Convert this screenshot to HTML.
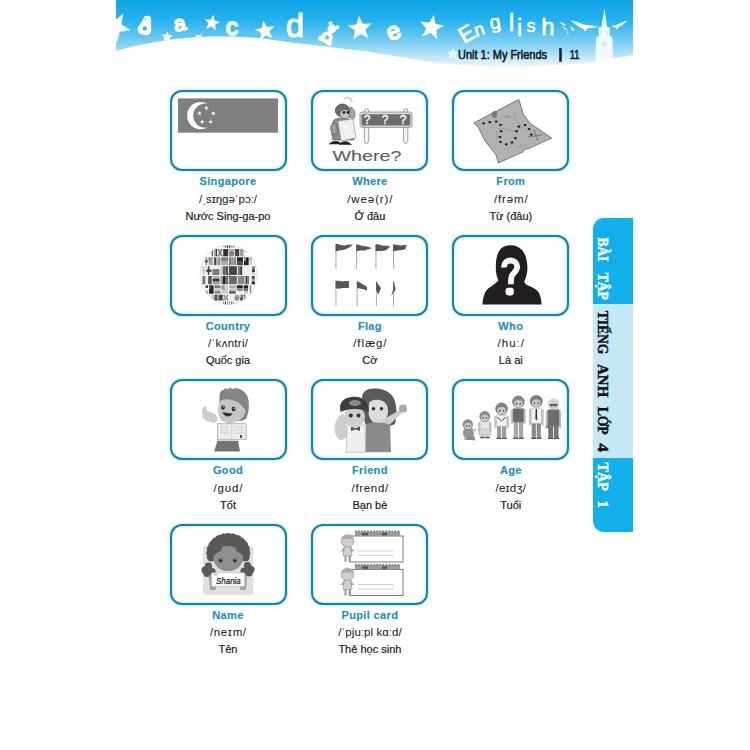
<!DOCTYPE html>
<html><head><meta charset="utf-8">
<style>
*{margin:0;padding:0;box-sizing:border-box}
html,body{width:750px;height:750px;overflow:hidden;background:#fff}
body{position:relative;font-family:"Liberation Sans",sans-serif}
.card{position:absolute;width:117px;height:81.3px;border:2px solid #0e86ad;border-radius:12px;background:#fff;box-shadow:0 0 0 0.8px rgba(140,225,245,0.55),inset 0 0 0 0.8px rgba(140,225,245,0.55)}
.t,.p,.v{position:absolute;width:120px;text-align:center;white-space:nowrap;line-height:14px}
.t{font-weight:bold;font-size:11px;letter-spacing:0.35px;color:#1f94b8;-webkit-text-stroke:0.2px #1f94b8}
.p{font-family:"Liberation Sans",sans-serif;font-size:11.5px;color:#1a1a1a;-webkit-text-stroke:0.05px #1a1a1a}
.v{font-size:11px;color:#1a1a1a;-webkit-text-stroke:0.2px #1a1a1a}
#banner{position:absolute;left:116px;top:0;width:517px;height:80px}
#tab{position:absolute;left:592.5px;top:218px;width:40.5px;height:313.5px;border-radius:11px 0 0 11px;overflow:hidden;background:#12b0ea}
#tab .light{position:absolute;left:0;top:85.5px;width:100%;height:154px;background:#c6e7f8}
.tw{position:absolute;left:6px;font-family:"Liberation Serif",serif;font-weight:bold;font-size:15px;writing-mode:vertical-rl;line-height:15px}
#imgs{position:absolute;left:0;top:0}
</style></head><body>
<svg id="banner" width="517" height="80" viewBox="116 0 517 80">
<defs><linearGradient id="bg" x1="0" y1="0" x2="0" y2="1">
<stop offset="0" stop-color="#10a4e8"/><stop offset="0.25" stop-color="#25b1ed"/><stop offset="0.45" stop-color="#62c6f1"/><stop offset="0.6" stop-color="#95d7f5"/><stop offset="0.72" stop-color="#c2e8f9"/><stop offset="0.85" stop-color="#f2fafe"/></linearGradient></defs>
<rect x="116" y="0" width="517" height="80" fill="url(#bg)"/>
<path d="M123.25,13.58 L121.44,24.36 L130.66,30.22 L119.85,31.83 L117.12,42.42 L112.25,32.63 L101.34,33.30 L109.14,25.65 L105.13,15.48 L114.82,20.54Z" fill="#fff"/>
<path d="M167.52,31.02 L168.71,35.04 L172.85,35.65 L169.39,38.02 L170.09,42.14 L166.77,39.59 L163.06,41.53 L164.47,37.58 L161.48,34.66 L165.66,34.77Z" fill="#fff"/>
<path d="M213.44,14.83 L214.59,20.50 L220.22,21.84 L215.18,24.69 L215.64,30.46 L211.37,26.55 L206.03,28.77 L208.44,23.50 L204.67,19.10 L210.42,19.76Z" fill="#fff"/>
<path d="M263.18,20.66 L266.93,27.05 L274.27,26.07 L269.36,31.61 L272.55,38.29 L265.76,35.33 L260.40,40.44 L261.12,33.07 L254.60,29.54 L261.83,27.94Z" fill="#fff"/>
<path d="M358.88,15.75 L362.78,23.87 L371.78,23.50 L365.26,29.71 L368.40,38.16 L360.47,33.88 L353.41,39.47 L355.03,30.61 L347.53,25.62 L356.46,24.42Z" fill="#fff"/>
<path d="M433.72,14.89 L435.38,23.75 L444.18,25.72 L436.27,30.04 L437.11,39.00 L430.56,32.82 L422.29,36.39 L426.15,28.25 L420.20,21.49 L429.13,22.65Z" fill="#fff"/>
<path d="M201.50,33.67 L201.01,37.11 L203.89,39.04 L200.47,39.63 L199.52,42.97 L197.90,39.91 L194.43,40.03 L196.85,37.54 L195.65,34.28 L198.77,35.81Z" fill="#fff"/>
<path d="M453.00,47.50 L454.65,51.73 L459.18,51.99 L455.66,54.87 L456.82,59.26 L453.00,56.80 L449.18,59.26 L450.34,54.87 L446.82,51.99 L451.35,51.73Z" fill="#eaf8fe"/>
<g transform="translate(145.5,25) rotate(12)"><circle cx="0.5" cy="-5.5" r="4" fill="#fff"/><path d="M-3.5,-5 L4.5,-5 L6.5,3 C7.5,6 6.5,9.5 2,10 L-2,10 C-6.5,9.5 -7.5,6 -6.5,3Z" fill="#fff"/><circle cx="0" cy="3.5" r="2.2" fill="#3ab6ee"/><circle cx="-1" cy="-6" r="0.8" fill="#3ab6ee"/></g>
<g transform="translate(329,34) rotate(30)"><circle cx="0" cy="-6" r="4.5" fill="#fff"/><circle cx="-4" cy="-10" r="2" fill="#fff"/><circle cx="4" cy="-10" r="2" fill="#fff"/><circle cx="0" cy="4" r="6" fill="#fff"/><circle cx="-5" cy="8" r="2.5" fill="#fff"/><circle cx="5" cy="8" r="2.5" fill="#fff"/><circle cx="0" cy="4" r="2" fill="#5cc2f0"/></g>
<text x="0" y="0" font-family="Liberation Sans" fill="#fff" stroke="#fff" stroke-linejoin="round" stroke-linecap="round" text-anchor="middle" stroke-width="1.8" font-size="21" transform="translate(181,30.5) rotate(-12)">a</text>
<text x="0" y="0" font-family="Liberation Sans" fill="#fff" stroke="#fff" stroke-linejoin="round" stroke-linecap="round" text-anchor="middle" stroke-width="1.8" font-size="24" transform="translate(232,34.5) rotate(0)">c</text>
<text x="0" y="0" font-family="Liberation Sans" fill="#fff" stroke="#fff" stroke-linejoin="round" stroke-linecap="round" text-anchor="middle" stroke-width="1.2" font-size="34" transform="translate(295,36.5) rotate(0) scale(0.95,1)">d</text>
<text x="0" y="0" font-family="Liberation Sans" fill="#fff" stroke="#fff" stroke-linejoin="round" stroke-linecap="round" text-anchor="middle" stroke-width="1.8" font-size="24" transform="translate(396.5,38.5) rotate(-25)">e</text>
<text x="0" y="0" font-family="Liberation Sans" fill="#fff" stroke="#fff" stroke-linejoin="round" stroke-linecap="round" text-anchor="middle" stroke-width="0.6" font-size="22.5" transform="translate(470.5,40.3) rotate(-30)">E</text>
<text x="0" y="0" font-family="Liberation Sans" fill="#fff" stroke="#fff" stroke-linejoin="round" stroke-linecap="round" text-anchor="middle" stroke-width="0.6" font-size="18" transform="translate(481,35.2) rotate(-18)">n</text>
<text x="0" y="0" font-family="Liberation Sans" fill="#fff" stroke="#fff" stroke-linejoin="round" stroke-linecap="round" text-anchor="middle" stroke-width="0.6" font-size="19.5" transform="translate(496,28.5) rotate(-10)">g</text>
<text x="0" y="0" font-family="Liberation Sans" fill="#fff" stroke="#fff" stroke-linejoin="round" stroke-linecap="round" text-anchor="middle" stroke-width="0.6" font-size="23" transform="translate(511.5,31) rotate(0)">l</text>
<text x="0" y="0" font-family="Liberation Sans" fill="#fff" stroke="#fff" stroke-linejoin="round" stroke-linecap="round" text-anchor="middle" stroke-width="0.6" font-size="23" transform="translate(519.5,35.8) rotate(0)">i</text>
<text x="0" y="0" font-family="Liberation Sans" fill="#fff" stroke="#fff" stroke-linejoin="round" stroke-linecap="round" text-anchor="middle" stroke-width="0.6" font-size="18" transform="translate(531,32) rotate(0)">s</text>
<text x="0" y="0" font-family="Liberation Sans" fill="#fff" stroke="#fff" stroke-linejoin="round" stroke-linecap="round" text-anchor="middle" stroke-width="0.6" font-size="24" transform="translate(548,35.3) rotate(0)">h</text>
<path d="M571,20.5 C575,21 579,22.5 583,24.5 L592,25.5 L598.5,26.5 C595,27.5 591,28 587.5,28.5 L585,31.5 L583,28.8 C579,27 575,24.5 571,20.5Z" fill="#fff"/>
<path d="M559.5,22 C562,22.5 564.5,23.5 566,25 L563.5,25.8Z M562,26.5 C564,27 566,28 567.5,29.5 L565,30Z M566.5,31 L569,33 L567,33.5Z M570.5,26 C572,27 573.5,28.5 574.5,30.5 L572,30.5Z" fill="#fff"/>
<path d="M611.5,26 C615,25.5 619,24 624,21.5 L627.5,20.5 C625,23 622,25.5 619,27 L617,29.5 L615.5,27.5 C614,27.2 612.5,26.8 611.5,26Z" fill="#fff"/>
<path d="M604,9.5 L604.8,9.5 L605,13 L606.2,20 L607,27 L609.5,27.2 L610,29 L609.5,36 L612,37 L612.5,39 L613,62 L595.5,62 L596,39 L596.5,37 L599,36 L598.5,29 L599,27.2 L601.6,27 L602.5,20 L603.7,13Z" fill="#f2fafe"/><rect x="600" y="31" width="2" height="3" fill="#cfe9f7"/><rect x="606" y="31" width="2" height="3" fill="#cfe9f7"/><circle cx="604.3" cy="44" r="3" fill="#d8eef9"/>
<path d="M116,51 C140,44 170,38.5 200,37 C225,36 255,36.5 280,41 C310,45 340,48 370,52 C400,57 430,63 460,65 C500,68 560,67 600,61 C615,59 625,56 633,55 L633,80 L116,80Z" fill="#fff"/>
</svg>
<svg id="hdr" style="position:absolute;left:0;top:0" width="750" height="80"><g font-family="Liberation Sans" fill="#1b1b2b" stroke="#1b1b2b" stroke-width="0.6">
<text x="458" y="58.6" font-size="12" textLength="89" lengthAdjust="spacingAndGlyphs">Unit 1: My Friends</text>
<rect x="559.6" y="48.6" width="1.8" height="13" fill="#1b1b2b"/>
<text x="569.8" y="58.6" font-size="12" textLength="9.8" lengthAdjust="spacingAndGlyphs">11</text></g></svg>
<div id="tab"><div class="light"></div>
<svg style="position:absolute;left:-592.5px;top:-218px" width="750" height="750"><text transform="translate(597.8,237.4) rotate(90)" x="0" y="0" font-family="Liberation Serif" font-weight="bold" font-size="15.5" fill="#fff" stroke="#fff" stroke-width="0.45" textLength="24.0" lengthAdjust="spacingAndGlyphs">BÀI</text><text transform="translate(597.8,272.8) rotate(90)" x="0" y="0" font-family="Liberation Serif" font-weight="bold" font-size="15.5" fill="#fff" stroke="#fff" stroke-width="0.45" textLength="27.0" lengthAdjust="spacingAndGlyphs">TẬP</text><text transform="translate(597.8,310.7) rotate(90)" x="0" y="0" font-family="Liberation Serif" font-weight="bold" font-size="15.5" fill="#111" stroke="#111" stroke-width="0.45" textLength="43.5" lengthAdjust="spacingAndGlyphs">TIẾNG</text><text transform="translate(597.8,364) rotate(90)" x="0" y="0" font-family="Liberation Serif" font-weight="bold" font-size="15.5" fill="#111" stroke="#111" stroke-width="0.45" textLength="33.3" lengthAdjust="spacingAndGlyphs">ANH</text><text transform="translate(597.8,406.7) rotate(90)" x="0" y="0" font-family="Liberation Serif" font-weight="bold" font-size="15.5" fill="#111" stroke="#111" stroke-width="0.45" textLength="28.0" lengthAdjust="spacingAndGlyphs">LỚP</text><text transform="translate(597.8,443.3) rotate(90)" x="0" y="0" font-family="Liberation Serif" font-weight="bold" font-size="15.5" fill="#111" stroke="#111" stroke-width="0.45" textLength="8.7" lengthAdjust="spacingAndGlyphs">4</text><text transform="translate(597.8,462.6) rotate(90)" x="0" y="0" font-family="Liberation Serif" font-weight="bold" font-size="15.5" fill="#fff" stroke="#fff" stroke-width="0.45" textLength="28.2" lengthAdjust="spacingAndGlyphs">TẬP</text><text transform="translate(597.8,500.4) rotate(90)" x="0" y="0" font-family="Liberation Serif" font-weight="bold" font-size="15.5" fill="#fff" stroke="#fff" stroke-width="0.45" textLength="7.2" lengthAdjust="spacingAndGlyphs">1</text></svg>
</div>
<div class="card" style="left:169.5px;top:90px"></div>
<div class="t" style="left:168.0px;top:174.16px">Singapore</div>
<div class="p" style="left:168.0px;top:191.75px;letter-spacing:-0.04px;padding-left:-0.04px">/ˌsɪŋgəˈpɔː/</div>
<div class="v" style="left:168.0px;top:208.66px">Nước Sing-ga-po</div><div class="card" style="left:311.4px;top:90px"></div>
<div class="t" style="left:309.9px;top:174.16px">Where</div>
<div class="p" style="left:309.9px;top:191.75px;letter-spacing:0.91px;padding-left:0.91px">/weə(r)/</div>
<div class="v" style="left:309.9px;top:208.66px">Ở đâu</div><div class="card" style="left:452.3px;top:90px"></div>
<div class="t" style="left:450.8px;top:174.16px">From</div>
<div class="p" style="left:450.8px;top:191.75px;letter-spacing:0.84px;padding-left:0.84px">/frəm/</div>
<div class="v" style="left:450.8px;top:208.66px">Từ (đâu)</div><div class="card" style="left:169.5px;top:234.5px"></div>
<div class="t" style="left:168.0px;top:318.66px">Country</div>
<div class="p" style="left:168.0px;top:336.25px;letter-spacing:0.29px;padding-left:0.29px">/ˈkʌntri/</div>
<div class="v" style="left:168.0px;top:353.16px">Quốc gia</div><div class="card" style="left:311.4px;top:234.5px"></div>
<div class="t" style="left:309.9px;top:318.66px">Flag</div>
<div class="p" style="left:309.9px;top:336.25px;letter-spacing:0.88px;padding-left:0.88px">/flæg/</div>
<div class="v" style="left:309.9px;top:353.16px">Cờ</div><div class="card" style="left:452.3px;top:234.5px"></div>
<div class="t" style="left:450.8px;top:318.66px">Who</div>
<div class="p" style="left:450.8px;top:336.25px;letter-spacing:1.0px;padding-left:1.0px">/huː/</div>
<div class="v" style="left:450.8px;top:353.16px">Là ai</div><div class="card" style="left:169.5px;top:379px"></div>
<div class="t" style="left:168.0px;top:463.16px">Good</div>
<div class="p" style="left:168.0px;top:480.75px;letter-spacing:0.85px;padding-left:0.85px">/gʊd/</div>
<div class="v" style="left:168.0px;top:497.66px">Tốt</div><div class="card" style="left:311.4px;top:379px"></div>
<div class="t" style="left:309.9px;top:463.16px">Friend</div>
<div class="p" style="left:309.9px;top:480.75px;letter-spacing:0.67px;padding-left:0.67px">/frend/</div>
<div class="v" style="left:309.9px;top:497.66px">Bạn bè</div><div class="card" style="left:452.3px;top:379px"></div>
<div class="t" style="left:450.8px;top:463.16px">Age</div>
<div class="p" style="left:450.8px;top:480.75px;letter-spacing:0.16px;padding-left:0.16px">/eɪdʒ/</div>
<div class="v" style="left:450.8px;top:497.66px">Tuổi</div><div class="card" style="left:169.5px;top:523.5px"></div>
<div class="t" style="left:168.0px;top:607.66px">Name</div>
<div class="p" style="left:168.0px;top:625.25px;letter-spacing:0.66px;padding-left:0.66px">/neɪm/</div>
<div class="v" style="left:168.0px;top:642.16px">Tên</div><div class="card" style="left:311.4px;top:523.5px"></div>
<div class="t" style="left:309.9px;top:607.66px">Pupil card</div>
<div class="p" style="left:309.9px;top:625.25px;letter-spacing:0.06px;padding-left:0.06px">/ˈpjuːpl kɑːd/</div>
<div class="v" style="left:309.9px;top:642.16px">Thẻ học sinh</div>
<svg id="imgs" width="750" height="750" viewBox="0 0 750 750">
<rect x="178" y="98.4" width="100" height="34.3" fill="#7f7e81"/>
<circle cx="200.6" cy="115.6" r="13.6" fill="#fff"/><circle cx="205.4" cy="115.6" r="12.2" fill="#7f7e81"/>
<path d="M206.40,105.60 L206.99,107.18 L208.68,107.26 L207.36,108.31 L207.81,109.94 L206.40,109.01 L204.99,109.94 L205.44,108.31 L204.12,107.26 L205.81,107.18Z" fill="#fff"/>
<path d="M199.50,111.00 L200.09,112.58 L201.78,112.66 L200.46,113.71 L200.91,115.34 L199.50,114.41 L198.09,115.34 L198.54,113.71 L197.22,112.66 L198.91,112.58Z" fill="#fff"/>
<path d="M213.30,111.00 L213.89,112.58 L215.58,112.66 L214.26,113.71 L214.71,115.34 L213.30,114.41 L211.89,115.34 L212.34,113.71 L211.02,112.66 L212.71,112.58Z" fill="#fff"/>
<path d="M202.20,119.40 L202.79,120.98 L204.48,121.06 L203.16,122.11 L203.61,123.74 L202.20,122.81 L200.79,123.74 L201.24,122.11 L199.92,121.06 L201.61,120.98Z" fill="#fff"/>
<path d="M210.60,119.40 L211.19,120.98 L212.88,121.06 L211.56,122.11 L212.01,123.74 L210.60,122.81 L209.19,123.74 L209.64,122.11 L208.32,121.06 L210.01,120.98Z" fill="#fff"/>
<rect x="364.4" y="108.8" width="4.2" height="34.5" rx="2" fill="#f4f4f4" stroke="#8c8c8c" stroke-width="0.8"/>
<rect x="403.6" y="108.8" width="4.2" height="34.5" rx="2" fill="#f4f4f4" stroke="#8c8c8c" stroke-width="0.8"/>
<rect x="360" y="112" width="52" height="15.4" rx="2" fill="#d9d9d9" stroke="#8a8a8a" stroke-width="0.8"/>
<rect x="361.6" y="114.2" width="48.6" height="11.4" rx="1" fill="#6b6b6d"/>
<text x="367.2" y="124.4" font-family="Liberation Sans" font-size="12" fill="#fff" stroke="#fff" stroke-width="0.3" text-anchor="middle">?</text>
<text x="385.2" y="124.4" font-family="Liberation Sans" font-size="12" fill="#fff" stroke="#fff" stroke-width="0.3" text-anchor="middle">?</text>
<text x="403.2" y="124.4" font-family="Liberation Sans" font-size="12" fill="#fff" stroke="#fff" stroke-width="0.3" text-anchor="middle">?</text>
<path d="M344,98.5 C348,96.5 352,98.5 351.5,102.5" stroke="#d4d4d4" stroke-width="2.5" fill="none"/>
<path d="M334,120 C338,117 348,118 352,121 L354,140 L333,140 C331,133 331,125 334,120Z" fill="#8a8a8a" stroke="#444" stroke-width="0.6"/>
<path d="M330,128 C331,124 334,122 336,124 L338,133 L333,135Z" fill="#9d9d9d" stroke="#444" stroke-width="0.5"/>
<ellipse cx="342.5" cy="110.5" rx="7.2" ry="6.5" fill="#6d6d6d" stroke="#333" stroke-width="0.6"/>
<ellipse cx="345" cy="114" rx="5.2" ry="4.6" fill="#c4c4c4" stroke="#444" stroke-width="0.5"/>
<circle cx="344" cy="112.5" r="1.4" fill="#222"/><circle cx="348" cy="112.5" r="1.4" fill="#222"/>
<path d="M350.5,107 C355,108.5 356.5,115 353.5,119 L349,117.5Z" fill="#a8a8a8" stroke="#444" stroke-width="0.5"/>
<path d="M338,121 L353,119 L356,138 L341,141Z" fill="#f0f0f0" stroke="#8a8a8a" stroke-width="0.6"/>
<path d="M330.5,143.5 C333,141.2 338,141.2 340.5,143.5 Z M340.5,144 C343,141.5 347,141.5 350,144Z" fill="#222" stroke="#222" stroke-width="1.6"/>
<text x="332.4" y="160.6" font-family="Liberation Sans" font-size="15.2" fill="#5e5e60" stroke="#5e5e60" stroke-width="0.1" textLength="69.2" lengthAdjust="spacingAndGlyphs">Where?</text>
<path d="M474.0,122.8 L518.8,99.5 L519.9,102.9 L523.3,114.3 L530.1,123.3 L551.6,138.1 L529.0,148.3 L524.4,149.4 L523.3,151.7 L498.3,163.0 L496.1,155.1 L484.7,140.4 L478.5,127.9Z" fill="#b1b1b1" stroke="#6b6b6b" stroke-width="0.9" stroke-linejoin="round"/>
<path d="M516,113 C511,116 516,121 520,124 C523,128 517,132 513,131 C508,130 504,128 500,129 C495,131 496,137 499,141" stroke="#8e8e8e" stroke-width="0.8" fill="none"/>
<path d="M526,144 C522,147 519,148 516,146" stroke="#8e8e8e" stroke-width="0.8" fill="none"/>
<ellipse cx="494.5" cy="114.5" rx="2.6" ry="3.6" fill="#7a7a7a"/>
<ellipse cx="507" cy="116.5" rx="4" ry="1.3" fill="#9a9a9a"/>
<path d="M533.5,130 L538,140.5 M527.8,137 L542.6,134.7" stroke="#7d7d7d" stroke-width="1.2"/>
<ellipse cx="483.6" cy="123.3" rx="1.4" ry="1.1" fill="#111"/>
<ellipse cx="489.8" cy="122.2" rx="1.4" ry="1.1" fill="#111"/>
<ellipse cx="496.1" cy="121.6" rx="1.4" ry="1.1" fill="#111"/>
<ellipse cx="500.6" cy="125" rx="1.4" ry="1.1" fill="#111"/>
<ellipse cx="501.2" cy="131.3" rx="1.4" ry="1.1" fill="#111"/>
<ellipse cx="500" cy="137" rx="1.4" ry="1.1" fill="#111"/>
<ellipse cx="500.6" cy="142" rx="1.4" ry="1.1" fill="#111"/>
<ellipse cx="506.3" cy="144.3" rx="1.4" ry="1.1" fill="#111"/>
<ellipse cx="512" cy="142.6" rx="1.4" ry="1.1" fill="#111"/>
<ellipse cx="515.4" cy="138.1" rx="1.4" ry="1.1" fill="#111"/>
<ellipse cx="516.5" cy="131.3" rx="1.4" ry="1.1" fill="#111"/>
<ellipse cx="518.8" cy="126.7" rx="1.4" ry="1.1" fill="#111"/>
<ellipse cx="525" cy="125" rx="1.4" ry="1.1" fill="#111"/>
<ellipse cx="529" cy="129" rx="1.4" ry="1.1" fill="#111"/>
<ellipse cx="531.2" cy="134.7" rx="1.4" ry="1.1" fill="#111"/>
<defs><clipPath id="gc"><ellipse cx="228.6" cy="274.8" rx="28.5" ry="29.6"/></clipPath></defs>
<g clip-path="url(#gc)">
<rect x="199" y="244" width="60" height="62" fill="#fff"/>
<rect x="222.96" y="244.50" width="0.76" height="1.22" fill="#888"/><rect x="222.96" y="245.67" width="0.76" height="1.22" fill="#888"/><rect x="222.96" y="246.83" width="0.76" height="1.22" fill="#eee"/>
<rect x="224.63" y="244.50" width="1.20" height="1.22" fill="#999"/><rect x="224.63" y="245.67" width="1.20" height="1.22" fill="#555"/><rect x="224.63" y="246.83" width="1.20" height="1.22" fill="#999"/>
<rect x="226.73" y="244.50" width="1.42" height="3.50" fill="#444"/><rect x="226.73" y="244.50" width="0.64" height="1.75" fill="#aaa"/>
<rect x="229.05" y="244.50" width="1.42" height="1.22" fill="#222"/><rect x="229.05" y="245.67" width="1.42" height="1.22" fill="#222"/><rect x="229.05" y="246.83" width="1.42" height="1.22" fill="#777"/>
<rect x="231.37" y="244.50" width="1.20" height="3.50" fill="#d8d8d8"/><rect x="231.37" y="245.90" width="1.20" height="0.77" fill="#888"/><rect x="231.79" y="244.50" width="0.24" height="3.50" fill="#888"/>
<rect x="233.47" y="244.50" width="0.76" height="1.22" fill="#555"/><rect x="233.47" y="245.67" width="0.76" height="1.22" fill="#222"/><rect x="233.47" y="246.83" width="0.76" height="1.22" fill="#888"/>
<rect x="211.07" y="249.00" width="0.65" height="7.30" fill="#ccc"/><rect x="211.66" y="249.00" width="0.65" height="7.30" fill="#999"/><rect x="212.26" y="249.00" width="0.65" height="7.30" fill="#222"/>
<rect x="213.76" y="249.00" width="1.14" height="7.30" fill="#aaa"/><rect x="214.85" y="249.00" width="1.14" height="7.30" fill="#999"/><rect x="215.94" y="249.00" width="1.14" height="7.30" fill="#333"/>
<rect x="217.94" y="249.00" width="4.37" height="7.30" fill="#d0d0d0"/><path d="M217.94,249.00 L222.31,256.30 M222.31,249.00 L217.94,256.30" stroke="#777" stroke-width="1.4"/>
<rect x="223.21" y="249.00" width="4.94" height="7.30" fill="#333"/>
<rect x="229.05" y="249.00" width="4.94" height="2.48" fill="#aaa"/><rect x="229.05" y="251.43" width="4.94" height="2.48" fill="#777"/><rect x="229.05" y="253.87" width="4.94" height="2.48" fill="#888"/>
<rect x="234.89" y="249.00" width="4.37" height="7.30" fill="#444"/><rect x="234.89" y="249.00" width="1.97" height="3.65" fill="#444"/>
<rect x="240.16" y="249.00" width="3.28" height="7.30" fill="#999"/>
<rect x="244.34" y="249.00" width="1.79" height="2.48" fill="#555"/><rect x="244.34" y="251.43" width="1.79" height="2.48" fill="#eee"/><rect x="244.34" y="253.87" width="1.79" height="2.48" fill="#eee"/>
<rect x="204.95" y="257.30" width="2.70" height="7.90" fill="#d8d8d8"/><rect x="204.95" y="260.46" width="2.70" height="1.74" fill="#333"/><rect x="205.90" y="257.30" width="0.54" height="7.90" fill="#333"/>
<rect x="208.55" y="257.30" width="4.71" height="7.90" fill="#aaa"/><rect x="208.55" y="257.30" width="2.12" height="3.95" fill="#888"/>
<rect x="214.16" y="257.30" width="2.10" height="7.90" fill="#444"/><rect x="216.21" y="257.30" width="2.10" height="7.90" fill="#aaa"/><rect x="218.27" y="257.30" width="2.10" height="7.90" fill="#888"/>
<rect x="221.22" y="257.30" width="6.93" height="2.68" fill="#777"/><rect x="221.22" y="259.93" width="6.93" height="2.68" fill="#999"/><rect x="221.22" y="262.57" width="6.93" height="2.68" fill="#aaa"/>
<rect x="229.05" y="257.30" width="2.36" height="7.90" fill="#777"/><rect x="231.36" y="257.30" width="2.36" height="7.90" fill="#999"/><rect x="233.67" y="257.30" width="2.36" height="7.90" fill="#888"/>
<rect x="236.88" y="257.30" width="6.16" height="2.68" fill="#222"/><rect x="236.88" y="259.93" width="6.16" height="2.68" fill="#333"/><rect x="236.88" y="262.57" width="6.16" height="2.68" fill="#444"/>
<rect x="243.94" y="257.30" width="4.71" height="7.90" fill="#222"/><rect x="243.94" y="257.30" width="2.12" height="3.95" fill="#999"/>
<rect x="249.55" y="257.30" width="2.70" height="7.90" fill="#ccc"/><rect x="249.55" y="257.30" width="1.21" height="3.95" fill="#aaa"/>
<rect x="202.22" y="266.20" width="3.11" height="8.80" fill="#d8d8d8"/><rect x="202.22" y="269.72" width="3.11" height="1.94" fill="#ccc"/><rect x="203.31" y="266.20" width="0.62" height="8.80" fill="#ccc"/>
<rect x="206.23" y="266.20" width="5.34" height="8.80" fill="#d8d8d8"/><rect x="206.23" y="269.72" width="5.34" height="1.94" fill="#333"/><rect x="208.10" y="266.20" width="1.07" height="8.80" fill="#333"/>
<rect x="212.47" y="266.20" width="6.96" height="2.98" fill="#eee"/><rect x="212.47" y="269.13" width="6.96" height="2.98" fill="#777"/><rect x="212.47" y="272.07" width="6.96" height="2.98" fill="#777"/>
<rect x="220.33" y="266.20" width="2.66" height="8.80" fill="#ccc"/><rect x="222.94" y="266.20" width="2.66" height="8.80" fill="#666"/><rect x="225.54" y="266.20" width="2.66" height="8.80" fill="#555"/>
<rect x="229.05" y="266.20" width="7.82" height="8.80" fill="#444"/>
<rect x="237.77" y="266.20" width="2.37" height="8.80" fill="#777"/><rect x="240.09" y="266.20" width="2.37" height="8.80" fill="#444"/><rect x="242.41" y="266.20" width="2.37" height="8.80" fill="#eee"/>
<rect x="245.63" y="266.20" width="5.34" height="8.80" fill="#eee"/>
<rect x="251.87" y="266.20" width="3.11" height="2.98" fill="#888"/><rect x="251.87" y="269.13" width="3.11" height="2.98" fill="#444"/><rect x="251.87" y="272.07" width="3.11" height="2.98" fill="#ccc"/>
<rect x="202.39" y="276.00" width="3.08" height="8.30" fill="#777"/>
<rect x="206.37" y="276.00" width="1.82" height="8.30" fill="#eee"/><rect x="208.14" y="276.00" width="1.82" height="8.30" fill="#555"/><rect x="209.91" y="276.00" width="1.82" height="8.30" fill="#555"/>
<rect x="212.57" y="276.00" width="6.91" height="2.82" fill="#aaa"/><rect x="212.57" y="278.77" width="6.91" height="2.82" fill="#333"/><rect x="212.57" y="281.53" width="6.91" height="2.82" fill="#999"/>
<rect x="220.39" y="276.00" width="2.64" height="8.30" fill="#999"/><rect x="222.98" y="276.00" width="2.64" height="8.30" fill="#222"/><rect x="225.56" y="276.00" width="2.64" height="8.30" fill="#666"/>
<rect x="229.05" y="276.00" width="7.76" height="8.30" fill="#666"/>
<rect x="237.71" y="276.00" width="6.91" height="8.30" fill="#888"/>
<rect x="245.53" y="276.00" width="1.82" height="8.30" fill="#333"/><rect x="247.29" y="276.00" width="1.82" height="8.30" fill="#777"/><rect x="249.06" y="276.00" width="1.82" height="8.30" fill="#eee"/>
<rect x="251.73" y="276.00" width="3.08" height="2.82" fill="#444"/><rect x="251.73" y="278.77" width="3.08" height="2.82" fill="#999"/><rect x="251.73" y="281.53" width="3.08" height="2.82" fill="#222"/>
<rect x="205.52" y="285.30" width="2.61" height="2.85" fill="#444"/><rect x="205.52" y="288.10" width="2.61" height="2.85" fill="#eee"/><rect x="205.52" y="290.90" width="2.61" height="2.85" fill="#aaa"/>
<rect x="209.04" y="285.30" width="4.57" height="8.40" fill="#222"/><rect x="209.04" y="285.30" width="2.06" height="4.20" fill="#555"/>
<rect x="214.51" y="285.30" width="6.00" height="2.85" fill="#777"/><rect x="214.51" y="288.10" width="6.00" height="2.85" fill="#ccc"/><rect x="214.51" y="290.90" width="6.00" height="2.85" fill="#888"/>
<rect x="221.41" y="285.30" width="6.74" height="8.40" fill="#ccc"/><rect x="221.41" y="285.30" width="3.03" height="4.20" fill="#999"/>
<rect x="229.05" y="285.30" width="6.74" height="2.85" fill="#aaa"/><rect x="229.05" y="288.10" width="6.74" height="2.85" fill="#ccc"/><rect x="229.05" y="290.90" width="6.74" height="2.85" fill="#666"/>
<rect x="236.69" y="285.30" width="6.00" height="2.85" fill="#222"/><rect x="236.69" y="288.10" width="6.00" height="2.85" fill="#888"/><rect x="236.69" y="290.90" width="6.00" height="2.85" fill="#eee"/>
<rect x="243.59" y="285.30" width="4.57" height="2.85" fill="#222"/><rect x="243.59" y="288.10" width="4.57" height="2.85" fill="#666"/><rect x="243.59" y="290.90" width="4.57" height="2.85" fill="#ccc"/>
<rect x="249.06" y="285.30" width="0.92" height="8.40" fill="#eee"/><rect x="249.93" y="285.30" width="0.92" height="8.40" fill="#555"/><rect x="250.81" y="285.30" width="0.92" height="8.40" fill="#ccc"/>
<rect x="211.76" y="294.70" width="0.61" height="5.80" fill="#666"/><rect x="212.33" y="294.70" width="0.61" height="5.80" fill="#eee"/><rect x="212.89" y="294.70" width="0.61" height="5.80" fill="#888"/>
<rect x="214.35" y="294.70" width="3.12" height="1.98" fill="#444"/><rect x="214.35" y="296.63" width="3.12" height="1.98" fill="#444"/><rect x="214.35" y="298.57" width="3.12" height="1.98" fill="#333"/>
<rect x="218.37" y="294.70" width="1.44" height="5.80" fill="#333"/><rect x="219.76" y="294.70" width="1.44" height="5.80" fill="#444"/><rect x="221.14" y="294.70" width="1.44" height="5.80" fill="#222"/>
<rect x="223.43" y="294.70" width="4.72" height="5.80" fill="#d0d0d0"/><path d="M223.43,294.70 L228.15,300.50 M228.15,294.70 L223.43,300.50" stroke="#999" stroke-width="1.4"/>
<rect x="229.05" y="294.70" width="4.72" height="5.80" fill="#eee"/>
<rect x="234.67" y="294.70" width="4.17" height="1.98" fill="#aaa"/><rect x="234.67" y="296.63" width="4.17" height="1.98" fill="#777"/><rect x="234.67" y="298.57" width="4.17" height="1.98" fill="#888"/>
<rect x="239.73" y="294.70" width="3.12" height="5.80" fill="#555"/><rect x="239.73" y="294.70" width="1.40" height="2.90" fill="#ccc"/>
<rect x="243.75" y="294.70" width="1.68" height="1.98" fill="#444"/><rect x="243.75" y="296.63" width="1.68" height="1.98" fill="#888"/><rect x="243.75" y="298.57" width="1.68" height="1.98" fill="#555"/>
<rect x="223.41" y="301.50" width="0.64" height="4.00" fill="#222"/><rect x="223.41" y="301.50" width="0.29" height="2.00" fill="#ccc"/>
<rect x="224.95" y="301.50" width="1.04" height="4.00" fill="#222"/>
<rect x="226.89" y="301.50" width="1.26" height="4.00" fill="#888"/>
<rect x="229.05" y="301.50" width="1.26" height="1.38" fill="#666"/><rect x="229.05" y="302.83" width="1.26" height="1.38" fill="#ccc"/><rect x="229.05" y="304.17" width="1.26" height="1.38" fill="#777"/>
<rect x="231.21" y="301.50" width="1.04" height="4.00" fill="#555"/>
<rect x="233.15" y="301.50" width="0.64" height="1.38" fill="#666"/><rect x="233.15" y="302.83" width="0.64" height="1.38" fill="#aaa"/><rect x="233.15" y="304.17" width="0.64" height="1.38" fill="#aaa"/>
</g>
<ellipse cx="228.6" cy="274.8" rx="28.5" ry="29.6" fill="none" stroke="#bdbdbd" stroke-width="0.5"/>
<rect x="335.4" y="244.3" width="1.1" height="24.5" fill="#b0b0b0"/>
<rect x="356.0" y="244.3" width="1.1" height="24.5" fill="#b0b0b0"/>
<rect x="375.4" y="244.3" width="1.1" height="24.5" fill="#b0b0b0"/>
<rect x="393.0" y="244.3" width="1.1" height="24.5" fill="#b0b0b0"/>
<rect x="335.4" y="281" width="1.1" height="25.1" fill="#b0b0b0"/>
<rect x="356.7" y="281" width="1.1" height="25.1" fill="#b0b0b0"/>
<rect x="375.9" y="281" width="1.1" height="25.1" fill="#b0b0b0"/>
<rect x="393.0" y="281" width="1.1" height="25.1" fill="#b0b0b0"/>
<path d="M335.6,244.1 C339,243.3 342,246.3 345.5,245.3 C348,244.6 350.5,244.3 352.8,244.8 C350,247 348,248.5 345,249.5 C342,250.5 339,250 335.6,251.4 Z" fill="#565656"/>
<path d="M356.2,244.4 C360,244.3 362,246.3 365,246.3 C367.5,246.6 370,247.3 372,248.3 C369.5,249 367,249.2 365,250.5 C362.5,250.8 359.5,250 356.2,251.4Z" fill="#565656"/>
<path d="M375.6,244.4 C379,244.1 381.5,245.6 384,245.8 C386,246 388,245.6 390,246.4 C388,248.5 386.5,250 384,250.8 C381,251.2 378.5,250.5 375.6,251.4Z" fill="#565656"/>
<path d="M393.2,244.6 C396.5,244.1 399,245.8 402,245.3 C403.8,245 405.5,244.8 407,245.2 C405,246.5 406.5,248.5 404.7,249.5 C401.5,250.5 397.5,250 393.2,251.4Z" fill="#565656"/>
<path d="M335.6,280.8 C338.5,280.3 341,281.8 344,281.3 C345.8,281 347.2,280.8 348.9,281 L348.9,288 C346,288.5 343,287.5 340.5,288.5 C339,288.8 337.5,288.5 335.6,288.3Z" fill="#565656"/>
<path d="M356.9,281.2 C360,282.3 363,284 367,286.9 L367,290.4 C364,289.5 361,288.5 356.9,288Z" fill="#565656"/>
<path d="M376.1,281.4 C378,283.5 380,286 381,288.5 C380,290.5 379,292.5 378.5,294.8 L376.1,290.1Z" fill="#565656"/>
<path d="M393.2,280.6 C394.5,284 395.5,287 395.5,290.1 C394,292 392.5,294 391,296.2 C392,293.5 393,291 393.2,288Z" fill="#565656"/>
<path d="M510,245.3 C503.5,245.3 499.5,249 497.5,254.5 C495.8,259.5 495.6,266 496,271.5 C496.4,275.5 497.5,278.5 498.5,280.5 C496.5,282.5 494,284.5 491,286.5 C487,288.8 484.8,292 483.8,296 C483,299 482.5,301.5 482.5,304.6 L541.6,304.6 C541.4,300.5 540.8,296.5 538.8,292.5 C536.5,289.2 532.5,287.3 528.5,285.8 C526,284.8 524.8,283.5 524.2,281.5 C526.2,277.5 527.6,272.5 527.4,266.5 C527.2,260.5 525.6,254.5 522.5,250.5 C519.5,247 515.5,245.3 510,245.3Z" fill="#231f20"/>
<path d="M504.2,267.5 C503.8,263 506.8,260.5 510.6,260.5 C514.3,260.5 517.2,263.2 517.2,266.8 C517.2,270.6 514,272.6 512.2,275 C511.2,276.6 510.9,279 510.9,284.2" stroke="#fff" stroke-width="5.8" fill="none" stroke-linecap="butt"/>
<rect x="505.6" y="287.8" width="8.2" height="7.6" rx="2.8" fill="#fff"/>
<path d="M203,414 C202.2,410 203.5,406.5 205.5,406.8 C206.5,407.2 206.3,409.5 206.1,411 L213,413.5 C215.5,414.5 217.5,417 217,420.5 L214.5,422.5 C211,421.5 206,420.5 203.5,418.5 C202.6,417.5 202.8,415.5 203,414Z" fill="#cdcdcd" stroke="#a0a0a0" stroke-width="0.4"/>
<path d="M219.5,398 C219,392 222,389.5 224,390 L225,387.8 L227.5,389.5 L230,387.5 L232.5,389 L236,388 C242,389 247.5,393 248.5,400 C249.5,407 248.5,414 246,419 L241,421 L222,421 C219,414 219,404 219.5,398Z" fill="#858585"/>
<path d="M218.5,404.5 C219.5,400 224,398.5 229.5,399.5 C235,400.5 239.5,402.5 241.5,405.5 L244,408.5 C246,409.5 245.8,413 244.2,414.8 C241.8,419.5 236.8,423.2 230,423.2 C223,423.2 218.2,418.5 218,412Z" fill="#c6c6c6"/>
<ellipse cx="223" cy="407.5" rx="1.8" ry="2.2" fill="#2a2a2a"/><ellipse cx="233.6" cy="409" rx="1.9" ry="2.3" fill="#2a2a2a"/>
<circle cx="223.5" cy="406.8" r="0.6" fill="#fff"/><circle cx="234.1" cy="408.3" r="0.6" fill="#fff"/>
<path d="M222.5,412.2 C224.5,417.5 230.5,418 232.5,413.5 Z" fill="#333"/>
<rect x="217.4" y="423.7" width="28.8" height="16" fill="#ececec" stroke="#aaa" stroke-width="0.8"/>
<path d="M231.8,424 L231.8,439.5 M220,427 L229,427 M220,430 L229,430 M220,433 L229,433 M234,427 L244,427 M234,430 L244,430 M234,433 L244,433" stroke="#c4c4c4" stroke-width="0.8"/>
<rect x="240" y="435" width="2" height="3" fill="#555"/>
<path d="M217.4,440.8 L238,440.8 L240,451.5 L214.2,451.5Z" fill="#737373"/>
<path d="M362,398 C362,391 368,388 376,388.5 C385,389 392,393 394.5,400 C397,407 397,416 395,424 L390,426 L366,426 C363,418 362,406 362,398Z" fill="#5a5a5a"/>
<path d="M369,404 C370,400 375,399.5 379.5,400 C385,401 388,405 388,411 C388,418 384,423.5 378,423.5 C372,423.5 368.5,418 368.5,412Z" fill="#dcdcdc"/>
<circle cx="373.5" cy="408.8" r="1.8" fill="#333"/><circle cx="381.5" cy="408.8" r="1.8" fill="#333"/>
<path d="M381,421 L399.5,410 L404,411 L386,428Z" fill="#cfcfcf"/>
<circle cx="403" cy="408.5" r="4" fill="#a9a9a9"/>
<path d="M366,424 C372,422 384,422 390,425 L391,452.3 L365,452.3Z" fill="#8a8a8a"/>
<path d="M343.5,414 C340,414 334.5,420 334.5,428 C334.5,435 338,440.5 342,440.5 L347,437 L346,420Z" fill="#cdcdcd"/>
<path d="M347,425 C352,423 361,423 365,426 L365.5,452.3 L346,452.3Z" fill="#efefef" stroke="#aaa" stroke-width="0.6"/>
<path d="M351,426 L355.5,428.5 L360,426 L360,431 L355.5,429.5 L351,431Z" fill="#555"/>
<circle cx="354.5" cy="417" r="10.5" fill="#cfcfcf"/>
<circle cx="350.8" cy="415.5" r="2" fill="#333"/><circle cx="358.5" cy="415.5" r="2" fill="#333"/>
<path d="M340,408 C340,400 347,396.5 355,396.8 C362,397 367.5,401 368.4,408.5 L369,411.8 C360,408 348,408 340.5,412Z" fill="#3e3e3e"/>
<ellipse cx="355" cy="403" rx="6" ry="3" fill="#8a8a8a"/>
<ellipse cx="468.5" cy="433" rx="5.5" ry="6.3" fill="#959595"/>
<path d="M463,439.5 L475.5,440.4 L474,436 L469,437Z" fill="#888"/>
<circle cx="467.8" cy="424.5" r="5.2" fill="#8c8c8c"/><ellipse cx="467.8" cy="426" rx="3.6" ry="3.2" fill="#c9c9c9"/><circle cx="466.4" cy="426" r="0.8" fill="#333"/><circle cx="469.2" cy="426" r="0.8" fill="#333"/>
<path d="M472,431 L476,428 L476.5,429.5 L473,433Z" fill="#bbb"/>
<rect x="478.3" y="422.3" width="2" height="10.0" rx="1" fill="#c9c9c9" stroke="#999" stroke-width="0.3"/><rect x="489.3" y="422.3" width="2" height="10.0" rx="1" fill="#c9c9c9" stroke="#999" stroke-width="0.3"/><rect x="480.6" y="430.5" width="3.8" height="6.5" fill="#d0d0d0"/><rect x="485.2" y="430.5" width="3.8" height="6.5" fill="#d0d0d0"/><rect x="480.0" y="436.7" width="4.6" height="1.6" rx="0.6" fill="#555"/><rect x="485.1" y="436.7" width="4.6" height="1.6" rx="0.6" fill="#555"/><rect x="480.1" y="421.5" width="9.4" height="9.5" rx="1.2" fill="#e6e6e6" stroke="#8a8a8a" stroke-width="0.4"/><circle cx="484.8" cy="416.4" r="5.4" fill="#8c8c8c"/><ellipse cx="484.8" cy="418.0" rx="3.7" ry="3.3" fill="#c9c9c9"/><circle cx="483.2" cy="418.0" r="0.8" fill="#333"/><circle cx="486.4" cy="418.0" r="0.8" fill="#333"/>
<path d="M480,429 L489.6,429 L491,435 L478.6,435Z" fill="#d6d6d6" stroke="#999" stroke-width="0.4"/>
<rect x="494.5" y="416.0" width="2" height="11.8" rx="1" fill="#c9c9c9" stroke="#999" stroke-width="0.3"/><rect x="506.7" y="416.0" width="2" height="11.8" rx="1" fill="#c9c9c9" stroke="#999" stroke-width="0.3"/><rect x="497.0" y="425.9" width="4.2" height="11.8" fill="#9c9c9c"/><rect x="502.0" y="425.9" width="4.2" height="11.8" fill="#9c9c9c"/><rect x="496.4" y="437.4" width="5.0" height="1.6" rx="0.6" fill="#555"/><rect x="501.9" y="437.4" width="5.0" height="1.6" rx="0.6" fill="#555"/><rect x="496.3" y="415.2" width="10.6" height="11.2" rx="1.2" fill="#f2f2f2" stroke="#8a8a8a" stroke-width="0.4"/><circle cx="501.6" cy="408.9" r="6.3" fill="#828282"/><ellipse cx="501.6" cy="410.8" rx="4.3" ry="3.9" fill="#c9c9c9"/><circle cx="499.7" cy="410.8" r="0.8" fill="#333"/><circle cx="503.5" cy="410.8" r="0.8" fill="#333"/>
<path d="M497,417 L501.6,421 L506,417" stroke="#555" stroke-width="1" fill="none"/>
<rect x="511.2" y="409.2" width="2" height="14.5" rx="1" fill="#c9c9c9" stroke="#999" stroke-width="0.3"/><rect x="523.6" y="409.2" width="2" height="14.5" rx="1" fill="#c9c9c9" stroke="#999" stroke-width="0.3"/><rect x="513.7" y="421.7" width="4.3" height="16.0" fill="#a8a8a8"/><rect x="518.8" y="421.7" width="4.3" height="16.0" fill="#a8a8a8"/><rect x="513.1" y="437.4" width="5.1" height="1.6" rx="0.6" fill="#555"/><rect x="518.7" y="437.4" width="5.1" height="1.6" rx="0.6" fill="#555"/><rect x="513.0" y="408.4" width="10.8" height="13.8" rx="1.2" fill="#6a6a6a" stroke="#8a8a8a" stroke-width="0.4"/><circle cx="518.4" cy="401.9" r="6.3" fill="#878787"/><ellipse cx="518.4" cy="403.8" rx="4.3" ry="3.9" fill="#c9c9c9"/><circle cx="516.5" cy="403.8" r="0.8" fill="#333"/><circle cx="520.3" cy="403.8" r="0.8" fill="#333"/>
<rect x="529.2" y="409.0" width="2" height="16.2" rx="1" fill="#c9c9c9" stroke="#999" stroke-width="0.3"/><rect x="541.4" y="409.0" width="2" height="16.2" rx="1" fill="#c9c9c9" stroke="#999" stroke-width="0.3"/><rect x="531.7" y="423.1" width="4.2" height="14.6" fill="#8a8a8a"/><rect x="536.7" y="423.1" width="4.2" height="14.6" fill="#8a8a8a"/><rect x="531.1" y="437.4" width="5.0" height="1.6" rx="0.6" fill="#555"/><rect x="536.6" y="437.4" width="5.0" height="1.6" rx="0.6" fill="#555"/><rect x="531.0" y="408.2" width="10.6" height="15.4" rx="1.2" fill="#f3f3f3" stroke="#8a8a8a" stroke-width="0.4"/><circle cx="536.3" cy="401.2" r="6.3" fill="#7c7c7c"/><ellipse cx="536.3" cy="403.1" rx="4.3" ry="3.9" fill="#c9c9c9"/><circle cx="534.4" cy="403.1" r="0.8" fill="#333"/><circle cx="538.2" cy="403.1" r="0.8" fill="#333"/>
<path d="M535.6,409 L537,409 L537.2,419 L536.3,420.5 L535.4,419Z" fill="#2e2e2e"/>
<rect x="546.0" y="410.4" width="2" height="17.6" rx="1" fill="#c9c9c9" stroke="#999" stroke-width="0.3"/><rect x="559.0" y="410.4" width="2" height="17.6" rx="1" fill="#c9c9c9" stroke="#999" stroke-width="0.3"/><rect x="548.5" y="425.9" width="4.6" height="11.8" fill="#757575"/><rect x="553.9" y="425.9" width="4.6" height="11.8" fill="#757575"/><rect x="547.9" y="437.4" width="5.4" height="1.6" rx="0.6" fill="#555"/><rect x="553.8" y="437.4" width="5.4" height="1.6" rx="0.6" fill="#555"/><rect x="547.8" y="409.6" width="11.4" height="16.8" rx="1.2" fill="#6e6e6e" stroke="#8a8a8a" stroke-width="0.4"/><circle cx="553.5" cy="404.0" r="5.6" fill="#d6d6d6"/><ellipse cx="553.5" cy="405.7" rx="3.8" ry="3.5" fill="#c9c9c9"/><rect x="549.3" y="404.2" width="8.4" height="1.3" fill="#444"/><circle cx="551.8" cy="405.7" r="0.8" fill="#333"/><circle cx="555.2" cy="405.7" r="0.8" fill="#333"/>
<path d="M546,428.5 C546.5,426 548.5,426 549,428.5 L549.4,439" stroke="#6a6a6a" stroke-width="1.1" fill="none"/>
<rect x="202.8" y="545.5" width="50.6" height="49.7" rx="4" fill="#e0e0e0"/>
<g fill="#585858"><circle cx="211.4" cy="557.0" r="4.6"/><circle cx="210.8" cy="553.0" r="4.6"/><circle cx="211.4" cy="549.0" r="4.6"/><circle cx="213.1" cy="545.2" r="4.6"/><circle cx="215.9" cy="542.0" r="4.6"/><circle cx="219.6" cy="539.6" r="4.6"/><circle cx="223.8" cy="538.0" r="4.6"/><circle cx="228.3" cy="537.5" r="4.6"/><circle cx="232.8" cy="538.0" r="4.6"/><circle cx="237.1" cy="539.6" r="4.6"/><circle cx="240.7" cy="542.0" r="4.6"/><circle cx="243.5" cy="545.2" r="4.6"/><circle cx="245.2" cy="549.0" r="4.6"/><circle cx="245.8" cy="553.0" r="4.6"/><circle cx="245.2" cy="557.0" r="4.6"/><ellipse cx="228.3" cy="552" rx="18" ry="15"/><circle cx="205" cy="570" r="3.6"/><circle cx="208.5" cy="566" r="3.6"/><circle cx="212" cy="571.5" r="3.6"/><circle cx="207" cy="573.5" r="3.6"/><circle cx="251" cy="569.5" r="3.6"/><circle cx="247.5" cy="565.5" r="3.6"/><circle cx="244" cy="571" r="3.6"/><circle cx="249" cy="573" r="3.6"/></g>
<ellipse cx="228.2" cy="558.5" rx="14.8" ry="12.6" fill="#8f8f8f"/>
<path d="M213.5,556 C214,549 219,543 226,542 C222,546 221,549 221.5,551 C218,552 215.5,554 213.5,556Z M243,556 C242.5,549 238,544 232,543 C236,547 237,549 236,551 C239,552 241.5,554 243,556Z" fill="#585858"/>
<circle cx="220.6" cy="560.3" r="1.9" fill="#1e1e1e"/><circle cx="235" cy="560.3" r="1.9" fill="#1e1e1e"/>
<circle cx="221" cy="559.8" r="0.6" fill="#fff"/><circle cx="235.4" cy="559.8" r="0.6" fill="#fff"/>
<path d="M209,578 C209,574 212,572 215,573 L216,590 L210,590Z M247,578 C247,574 244,572 241,573 L240,590 L246,590Z" fill="#a2a2a2"/>
<rect x="211.6" y="572.8" width="33.1" height="13.6" rx="1" fill="#fff" stroke="#b0b0b0" stroke-width="0.6"/>
<text x="216" y="584" font-family="Liberation Sans" font-style="italic" font-size="9.5" fill="#1e1e1e" stroke="#1e1e1e" stroke-width="0.25" textLength="24.8" lengthAdjust="spacingAndGlyphs">Shania</text>
<rect x="213.5" y="574.2" width="4" height="1" fill="#999"/>
<rect x="350" y="536" width="53" height="26" fill="#fff" stroke="#6a6a6a" stroke-width="0.9"/>
<rect x="355" y="531.5" width="45" height="4.5" fill="#9a9a9a"/>
<circle cx="355.8" cy="531.2" r="0.9" fill="#777"/>
<circle cx="358.9" cy="531.2" r="0.9" fill="#777"/>
<circle cx="361.9" cy="531.2" r="0.9" fill="#777"/>
<circle cx="364.9" cy="531.2" r="0.9" fill="#777"/>
<circle cx="368.0" cy="531.2" r="0.9" fill="#777"/>
<circle cx="371.1" cy="531.2" r="0.9" fill="#777"/>
<circle cx="374.1" cy="531.2" r="0.9" fill="#777"/>
<circle cx="377.2" cy="531.2" r="0.9" fill="#777"/>
<circle cx="380.2" cy="531.2" r="0.9" fill="#777"/>
<circle cx="383.2" cy="531.2" r="0.9" fill="#777"/>
<circle cx="386.3" cy="531.2" r="0.9" fill="#777"/>
<circle cx="389.4" cy="531.2" r="0.9" fill="#777"/>
<circle cx="392.4" cy="531.2" r="0.9" fill="#777"/>
<circle cx="395.4" cy="531.2" r="0.9" fill="#777"/>
<circle cx="398.5" cy="531.2" r="0.9" fill="#777"/>
<rect x="362" y="532.8" width="6" height="2.5" fill="#555"/><rect x="382" y="532.8" width="5" height="2.5" fill="#555"/>
<path d="M358,551 L394,551 M358,555.5 L394,555.5" stroke="#c7c7c7" stroke-width="0.8"/>
<circle cx="347.5" cy="541" r="6.3" fill="#cfcfcf" stroke="#888" stroke-width="0.6"/>
<path d="M341.5,539 C342,534 353,534 353.5,539Z" fill="#aaa"/>
<path d="M344,547 L351,547 L352,556 L343,556Z M341,551 L344,548 L344,551Z M354,551 L351,548 L351,551Z" fill="#d0d0d0" stroke="#8a8a8a" stroke-width="0.6"/>
<path d="M344.5,556 L346.5,556 L346.5,562 L344.5,562Z M348.5,556 L350.5,556 L350.5,562 L348.5,562Z" fill="#999"/>
<rect x="350" y="569.5" width="53" height="26" fill="#fff" stroke="#6a6a6a" stroke-width="0.9"/>
<rect x="355" y="565.0" width="45" height="4.5" fill="#9a9a9a"/>
<circle cx="355.8" cy="564.7" r="0.9" fill="#777"/>
<circle cx="358.9" cy="564.7" r="0.9" fill="#777"/>
<circle cx="361.9" cy="564.7" r="0.9" fill="#777"/>
<circle cx="364.9" cy="564.7" r="0.9" fill="#777"/>
<circle cx="368.0" cy="564.7" r="0.9" fill="#777"/>
<circle cx="371.1" cy="564.7" r="0.9" fill="#777"/>
<circle cx="374.1" cy="564.7" r="0.9" fill="#777"/>
<circle cx="377.2" cy="564.7" r="0.9" fill="#777"/>
<circle cx="380.2" cy="564.7" r="0.9" fill="#777"/>
<circle cx="383.2" cy="564.7" r="0.9" fill="#777"/>
<circle cx="386.3" cy="564.7" r="0.9" fill="#777"/>
<circle cx="389.4" cy="564.7" r="0.9" fill="#777"/>
<circle cx="392.4" cy="564.7" r="0.9" fill="#777"/>
<circle cx="395.4" cy="564.7" r="0.9" fill="#777"/>
<circle cx="398.5" cy="564.7" r="0.9" fill="#777"/>
<rect x="362" y="566.3" width="6" height="2.5" fill="#555"/><rect x="382" y="566.3" width="5" height="2.5" fill="#555"/>
<path d="M358,584.5 L394,584.5 M358,589.0 L394,589.0" stroke="#c7c7c7" stroke-width="0.8"/>
<circle cx="347.5" cy="574.5" r="6.3" fill="#cfcfcf" stroke="#888" stroke-width="0.6"/>
<path d="M341.5,572.5 C342,567.5 353,567.5 353.5,572.5Z" fill="#aaa"/>
<path d="M344,580.5 L351,580.5 L352,589.5 L343,589.5Z M341,584.5 L344,581.5 L344,584.5Z M354,584.5 L351,581.5 L351,584.5Z" fill="#d0d0d0" stroke="#8a8a8a" stroke-width="0.6"/>
<path d="M344.5,589.5 L346.5,589.5 L346.5,595.5 L344.5,595.5Z M348.5,589.5 L350.5,589.5 L350.5,595.5 L348.5,595.5Z" fill="#999"/>
</svg>
</body></html>
